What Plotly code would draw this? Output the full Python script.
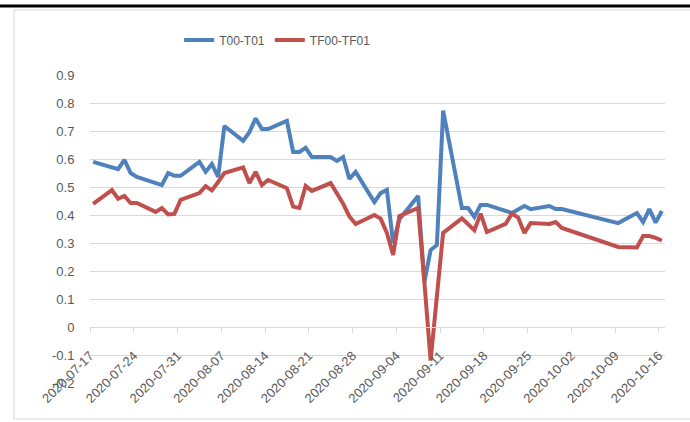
import pandas as pd
import plotly.graph_objects as go

dates = ["2020-07-17","2020-07-20","2020-07-21","2020-07-22","2020-07-23","2020-07-24",
         "2020-07-27","2020-07-28","2020-07-29","2020-07-30","2020-07-31",
         "2020-08-03","2020-08-04","2020-08-05","2020-08-06","2020-08-07",
         "2020-08-10","2020-08-11","2020-08-12","2020-08-13","2020-08-14",
         "2020-08-17","2020-08-18","2020-08-19","2020-08-20","2020-08-21",
         "2020-08-24","2020-08-25","2020-08-26","2020-08-27","2020-08-28",
         "2020-08-31","2020-09-01","2020-09-02","2020-09-03","2020-09-04",
         "2020-09-07","2020-09-08","2020-09-09","2020-09-10","2020-09-11",
         "2020-09-14","2020-09-15","2020-09-16","2020-09-17","2020-09-18",
         "2020-09-21","2020-09-22","2020-09-23","2020-09-24","2020-09-25",
         "2020-09-28","2020-09-29","2020-09-30",
         "2020-10-09","2020-10-12","2020-10-13","2020-10-14","2020-10-15","2020-10-16"]

t_spread = [0.590, 0.572, 0.564, 0.597, 0.550, 0.536,
            0.514, 0.507, 0.550, 0.540, 0.540,
            0.590, 0.554, 0.582, 0.536, 0.718,
            0.665, 0.696, 0.745, 0.707, 0.707,
            0.736, 0.625, 0.625, 0.640, 0.607,
            0.607, 0.593, 0.607, 0.529, 0.554,
            0.446, 0.478, 0.490, 0.300, 0.385,
            0.468, 0.160, 0.275, 0.293, 0.773,
            0.425, 0.425, 0.393, 0.436, 0.436,
            0.415, 0.407, 0.420, 0.432, 0.421,
            0.432, 0.421, 0.421,
            0.371, 0.407, 0.375, 0.421, 0.373, 0.414]

tf_spread = [0.440, 0.489, 0.458, 0.468, 0.443, 0.443,
             0.411, 0.425, 0.402, 0.404, 0.454,
             0.478, 0.503, 0.488, 0.518, 0.550,
             0.570, 0.514, 0.554, 0.507, 0.525,
             0.496, 0.430, 0.425, 0.504, 0.486,
             0.514, 0.478, 0.440, 0.395, 0.368,
             0.400, 0.387, 0.336, 0.257, 0.396,
             0.425, 0.160, -0.120, 0.110, 0.336,
             0.388, 0.365, 0.346, 0.405, 0.339,
             0.368, 0.405, 0.391, 0.336, 0.371,
             0.368, 0.375, 0.354,
             0.286, 0.284, 0.325, 0.325, 0.318, 0.309]

x_ticks = ["2020-07-17","2020-07-24","2020-07-31","2020-08-07","2020-08-14",
           "2020-08-21","2020-08-28","2020-09-04","2020-09-11","2020-09-18",
           "2020-09-25","2020-10-02","2020-10-09","2020-10-16"]
y_ticks = [-0.2, -0.1, 0, 0.1, 0.2, 0.3, 0.4, 0.5, 0.6, 0.7, 0.8, 0.9]
y_ticktext = ["-0.2", "-0.1", "0", "0.1", "0.2", "0.3", "0.4", "0.5", "0.6", "0.7", "0.8", "0.9"]

# points sit in the middle of each day (Excel date axis style)
x = pd.to_datetime(dates) + pd.Timedelta(hours=12)

FONT = "Liberation Sans"
GREY = "#595959"

fig = go.Figure()
fig.add_trace(go.Scatter(x=x, y=t_spread, mode="lines", name="T00-T01",
                         line=dict(color="#4F81BD", width=4)))
fig.add_trace(go.Scatter(x=x, y=tf_spread, mode="lines", name="TF00-TF01",
                         line=dict(color="#C0504D", width=4)))

ymin, ymax = -0.2, 0.9
fig.update_layout(
    width=690, height=422,
    margin=dict(l=90, r=25, t=75, b=39, autoexpand=False),
    paper_bgcolor="white", plot_bgcolor="white",
    font=dict(family=FONT, size=13, color=GREY),
    showlegend=True,
    legend=dict(orientation="h", x=0.155, y=1.114, xanchor="left", yanchor="middle",
                font=dict(family=FONT, size=12, color=GREY), bgcolor="rgba(0,0,0,0)",
                itemwidth=30),
    xaxis=dict(type="date", range=["2020-07-17", "2020-10-17"], automargin=False,
               tickvals=x_ticks, ticktext=x_ticks, tickangle=-45,
               showgrid=False, zeroline=False,
               showline=True, linecolor="#D9D9D9", linewidth=1,
               ticks="outside", ticklen=5, tickcolor="#D9D9D9",
               ticklabelstandoff=10,
               anchor="free", position=(0 - ymin) / (ymax - ymin),
               tickfont=dict(family=FONT, size=13, color=GREY)),
    yaxis=dict(range=[ymin, ymax], tickvals=y_ticks, ticktext=y_ticktext, automargin=False,
               showgrid=True, gridcolor="#D9D9D9", gridwidth=1,
               zeroline=False, showline=False,
               ticks="outside", ticklen=12, tickcolor="rgba(0,0,0,0)",
               tickfont=dict(family=FONT, size=13, color=GREY)),
    shapes=[
        dict(type="rect", xref="paper", yref="paper",
             x0=-0.1322, x1=1.08, y0=-0.1169, y1=1.211,
             line=dict(color="#D9D9D9", width=1), fillcolor="rgba(0,0,0,0)", layer="below"),
        dict(type="line", xref="paper", yref="paper",
             x0=-0.17, x1=1.05, y0=1.224, y1=1.224,
             line=dict(color="black", width=3)),
    ],
)

fig.write_html("out.html", config={"displayModeBar": False},
               post_script="document.body.style.margin='0px';")
